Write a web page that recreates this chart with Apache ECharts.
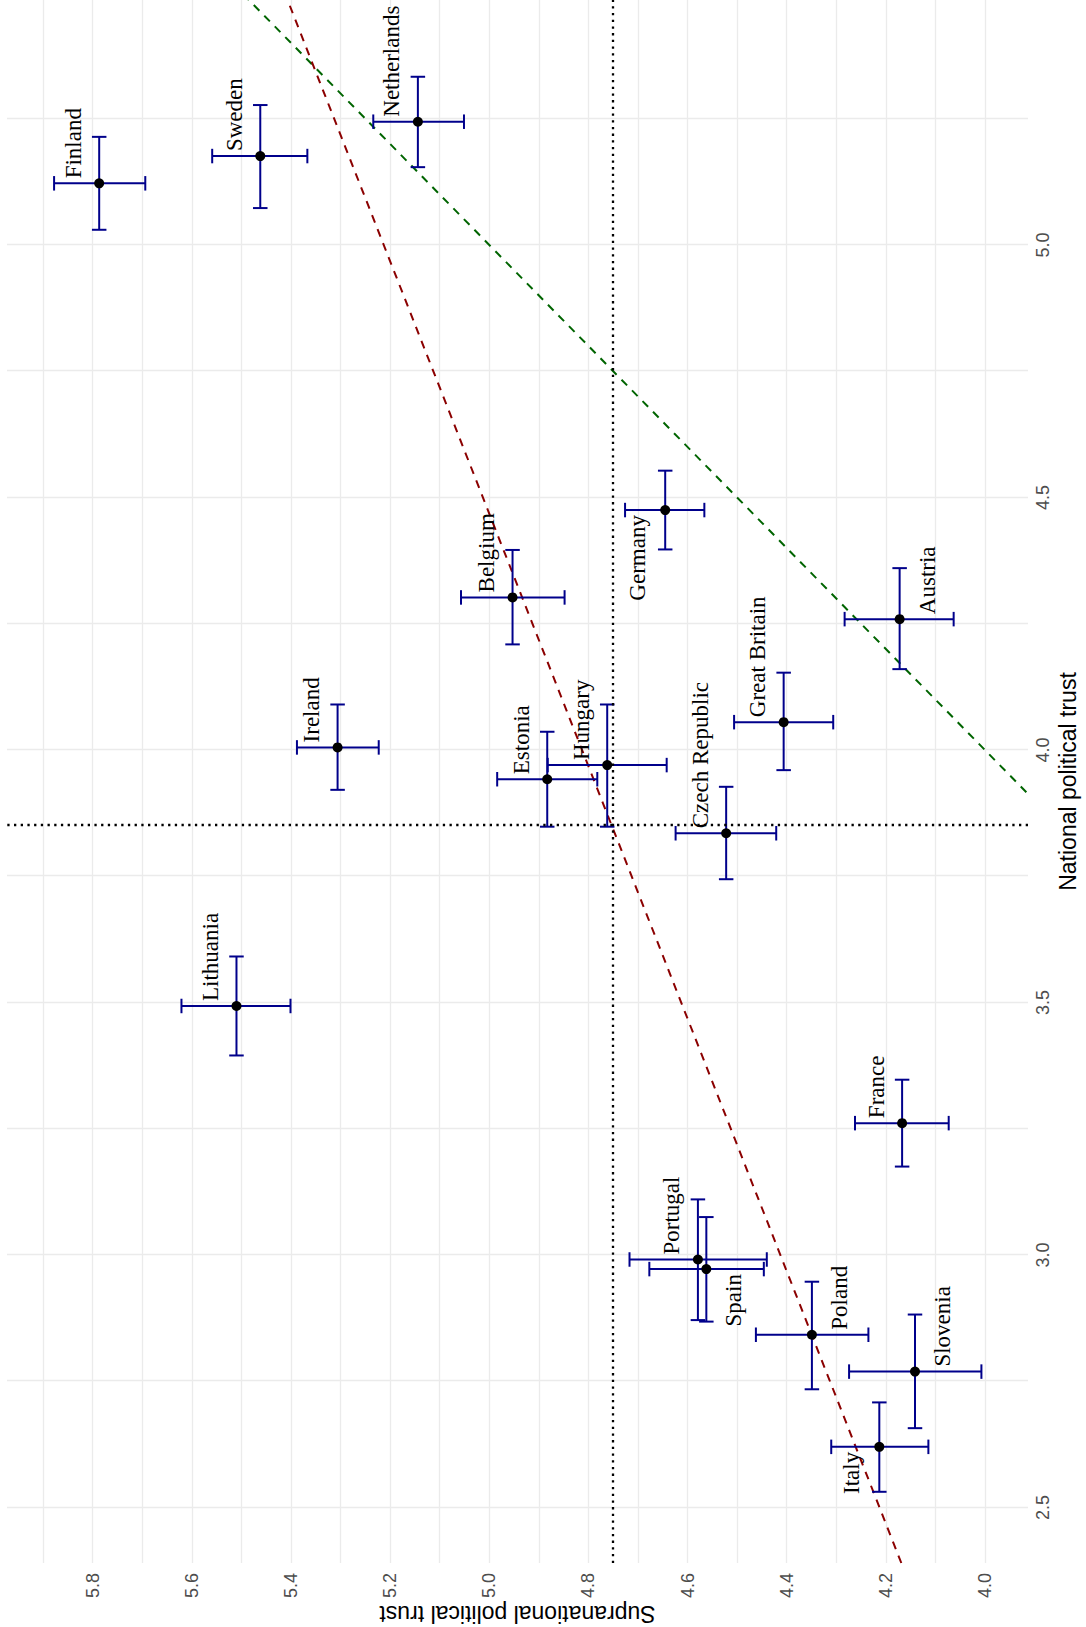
<!DOCTYPE html>
<html>
<head>
<meta charset="utf-8">
<title>National vs supranational political trust</title>
<script src="https://cdn.jsdelivr.net/npm/echarts@6/dist/echarts.min.js"></script>
<style>
  html, body { margin: 0; padding: 0; width: 1086px; height: 1627px; overflow: hidden; background: #ffffff; }
  /* the plot is laid out landscape and turned a quarter turn counter-clockwise onto the portrait page */
  #chart {
    position: absolute; left: 0; top: 0;
    width: 1627px; height: 1086px;
    transform-origin: 0 0;
    transform: translateY(1627px) rotate(-90deg);
  }
</style>
</head>
<body>
<div id="chart"></div>
<script>
// Country means with 95% intervals
const countries = ['Finland', 'Sweden', 'Netherlands', 'Belgium', 'Germany', 'Hungary',
  'Estonia', 'Czech Republic', 'Great Britain', 'Austria', 'Ireland', 'Lithuania',
  'Portugal', 'Spain', 'Poland', 'Slovenia', 'Italy', 'France'];

const nationalTrust = [5.122, 5.176, 5.244, 4.302, 4.475, 3.970, 3.942, 3.835, 4.055,
  4.259, 4.005, 3.493, 2.991, 2.972, 2.842, 2.769, 2.620, 3.261];
const nationalLow = [5.030, 5.073, 5.154, 4.209, 4.397, 3.848, 3.848, 3.744, 3.960,
  4.160, 3.921, 3.395, 2.871, 2.868, 2.734, 2.657, 2.531, 3.175];
const nationalHigh = [5.214, 5.277, 5.333, 4.396, 4.553, 4.090, 4.036, 3.927, 4.153,
  4.360, 4.090, 3.591, 3.110, 3.075, 2.947, 2.882, 2.708, 3.347];

const supraTrust = [5.787, 5.462, 5.144, 4.953, 4.645, 4.762, 4.883, 4.522, 4.406,
  4.172, 5.306, 5.510, 4.579, 4.562, 4.349, 4.141, 4.213, 4.167];
const supraLow = [5.694, 5.367, 5.051, 4.848, 4.566, 4.642, 4.782, 4.421, 4.306,
  4.063, 5.223, 5.401, 4.440, 4.446, 4.235, 4.007, 4.114, 4.073];
const supraHigh = [5.878, 5.559, 5.234, 5.057, 4.726, 4.882, 4.984, 4.624, 4.506,
  4.283, 5.388, 5.621, 4.717, 4.677, 4.462, 4.274, 4.310, 4.262];

// Axis ticks
const nationalTickLabels = [2.5, 3.0, 3.5, 4.0, 4.5, 5.0];
const nationalGrid = [2.5, 2.75, 3.0, 3.25, 3.5, 3.75, 4.0, 4.25, 4.5, 4.75, 5.0, 5.25];
const supraTickLabels = [4.0, 4.2, 4.4, 4.6, 4.8, 5.0, 5.2, 5.4, 5.6, 5.8];
const supraGrid = [4.0, 4.1, 4.2, 4.3, 4.4, 4.5, 4.6, 4.7, 4.8, 4.9, 5.0, 5.1, 5.2, 5.3, 5.4, 5.5, 5.6, 5.7, 5.8, 5.9];
const nationalRange = [2.39, 5.485];
const supraRange = [3.913, 5.973];

// Label side for each country (u/d = above/below, l/r = left/right of the point)
const labelSide = { 'Germany': 'ul', 'Italy': 'ul', 'Spain': 'dl', 'Austria': 'dr', 'Poland': 'dr', 'Slovenia': 'dr' };
const sideStyle = {
  ur: { align: 'left', offset: [5, -26] },
  ul: { align: 'right', offset: [-5, -28] },
  dr: { align: 'left', offset: [5, 28] },
  dl: { align: 'right', offset: [-5, 27] }
};

// Means and least-squares fit of supranational on national trust
const mean = a => a.reduce((t, v) => t + v, 0) / a.length;
const meanNational = mean(nationalTrust);
const meanSupra = mean(supraTrust);
let sxy = 0, sxx = 0;
nationalTrust.forEach((n, i) => { sxy += (n - meanNational) * (supraTrust[i] - meanSupra); sxx += (n - meanNational) ** 2; });
const fitSlope = sxy / sxx;
const fitIntercept = meanSupra - fitSlope * meanNational;
const fitLine = nationalRange.map(n => [n, fitIntercept + fitSlope * n]);
const identityLine = [[nationalRange[0], nationalRange[0]], [supraRange[1], supraRange[1]]];

const sansFont = "'Liberation Sans', Arial, Helvetica, sans-serif";
const serifFont = "'Liberation Serif', 'Times New Roman', serif";
const gridColor = '#ebebeb';

const chart = echarts.init(document.getElementById('chart'), null, { renderer: 'svg', width: 1627, height: 1086 });

chart.setOption({
  animation: false,
  backgroundColor: '#ffffff',
  grid: { left: 64, right: 0, top: 7, bottom: 58, containLabel: false, outerBoundsMode: 'none' },
  xAxis: {
    type: 'value',
    min: nationalRange[0], max: nationalRange[1],
    name: 'National political trust',
    nameLocation: 'middle', nameGap: 28, nameMoveOverlap: false,
    nameTextStyle: { fontFamily: sansFont, fontSize: 23, color: '#000000' },
    axisLine: { show: false },
    axisTick: { show: false, customValues: nationalGrid },
    axisLabel: {
      customValues: nationalTickLabels, margin: 6,
      fontFamily: sansFont, fontSize: 18, color: '#4d4d4d',
      formatter: v => v.toFixed(1)
    },
    splitLine: { show: true, lineStyle: { color: gridColor, width: 1.3 } }
  },
  yAxis: {
    type: 'value',
    min: supraRange[0], max: supraRange[1],
    name: 'Supranational political trust',
    nameLocation: 'middle', nameGap: 39, nameRotate: 90, nameMoveOverlap: false,
    nameTextStyle: { fontFamily: sansFont, fontSize: 23, color: '#000000' },
    axisLine: { show: false },
    axisTick: { show: false, customValues: supraGrid },
    axisLabel: {
      customValues: supraTickLabels, margin: 10,
      fontFamily: sansFont, fontSize: 18, color: '#4d4d4d',
      formatter: v => v.toFixed(1)
    },
    splitLine: { show: true, lineStyle: { color: gridColor, width: 1.3 } }
  },
  series: [
    {
      name: 'identity',
      type: 'line',
      data: identityLine,
      showSymbol: false, symbol: 'none', clip: true, silent: true, z: 2,
      lineStyle: { color: '#006400', width: 2, type: [8, 7] }
    },
    {
      name: 'fit',
      type: 'line',
      data: fitLine,
      showSymbol: false, symbol: 'none', clip: true, silent: true, z: 2,
      lineStyle: { color: '#8b0000', width: 2, type: [8, 7] },
      markLine: {
        silent: true, symbol: 'none', label: { show: false },
        lineStyle: { color: '#000000', width: 2.3, type: [2.3, 4.4], cap: 'butt' },
        data: [{ xAxis: meanNational }, { yAxis: meanSupra }]
      }
    },
    {
      name: 'intervals',
      type: 'custom',
      z: 3,
      silent: true,
      data: countries.map((c, i) => [nationalTrust[i], supraTrust[i], nationalLow[i], nationalHigh[i], supraLow[i], supraHigh[i]]),
      encode: { x: 0, y: 1 },
      renderItem: (params, api) => {
        const n = api.value(0), s = api.value(1);
        const a = api.coord([api.value(2), s]);
        const b = api.coord([api.value(3), s]);
        const c = api.coord([n, api.value(4)]);
        const d = api.coord([n, api.value(5)]);
        const cap = 7.25;
        const st = { stroke: '#00008b', lineWidth: 2, fill: null };
        const seg = (x1, y1, x2, y2) => ({ type: 'line', shape: { x1, y1, x2, y2 }, style: st });
        return {
          type: 'group',
          children: [
            seg(a[0], a[1], b[0], b[1]),
            seg(a[0], a[1] - cap, a[0], a[1] + cap),
            seg(b[0], b[1] - cap, b[0], b[1] + cap),
            seg(c[0], c[1], d[0], d[1]),
            seg(c[0] - cap, c[1], c[0] + cap, c[1]),
            seg(d[0] - cap, d[1], d[0] + cap, d[1])
          ]
        };
      }
    },
    {
      name: 'countries',
      type: 'scatter',
      z: 4,
      symbol: 'circle', symbolSize: 10,
      itemStyle: { color: '#000000', opacity: 1 },
      label: {
        show: true, position: 'inside', formatter: '{b}',
        fontFamily: serifFont, fontSize: 23, color: '#000000', verticalAlign: 'middle'
      },
      data: countries.map((c, i) => ({
        name: c,
        value: [nationalTrust[i], supraTrust[i]],
        label: sideStyle[labelSide[c] || 'ur']
      }))
    }
  ]
});
</script>
</body>
</html>
